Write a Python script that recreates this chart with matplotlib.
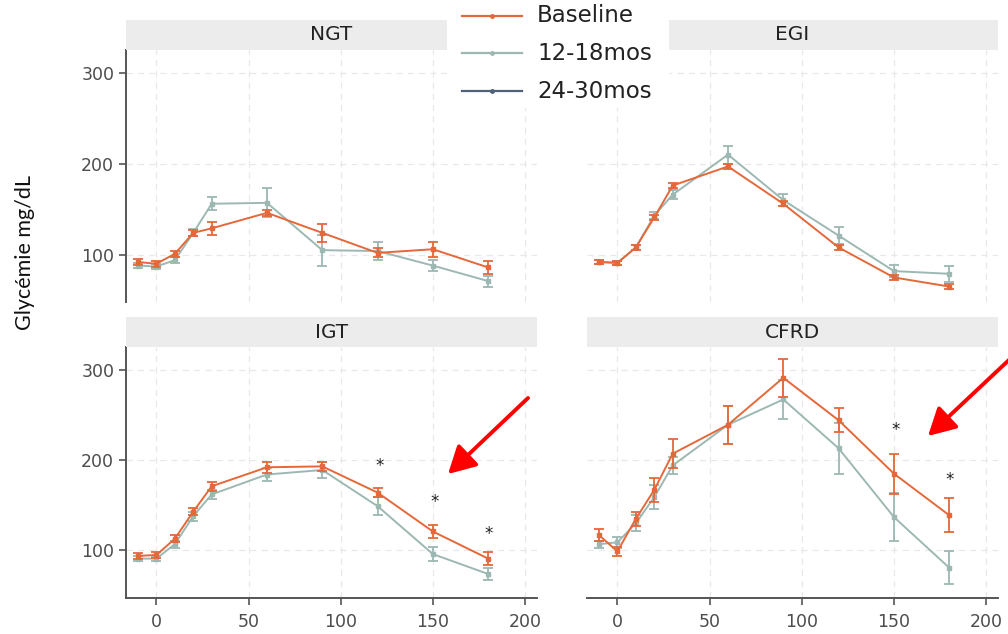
import matplotlib
matplotlib.use("Agg")
import matplotlib.pyplot as plt
from matplotlib.lines import Line2D
from matplotlib.patches import Rectangle, FancyArrowPatch

W, H = 1008, 634

# OGTT sampling times (min)
times = [-10, 0, 10, 20, 30, 60, 90, 120, 150, 180]
panels = ["NGT", "EGI", "IGT", "CFRD"]
series_labels = ["Baseline", "12-18mos", "24-30mos"]
x_ticks = [0, 50, 100, 150, 200]
y_ticks = [100, 200, 300]

# mean glycaemia and error per group
ngt_base = [92, 90, 101, 124, 129, 146, 124, 102, 106, 86]
ngt_base_err = [3, 3, 3, 3, 7, 3, 10, 5, 8, 7]
ngt_fu = [88, 87, 94, 124, 156, 157, 105, 104, 88, 71]
ngt_fu_err = [3, 3, 3, 4, 7, 16, 17, 10, 6, 6]

egi_base = [92, 91, 108, 141, 176, 197, 156, 108, 75, 65]
egi_base_err = [2, 2, 3, 3, 3, 3, 3, 3, 3, 3]
egi_fu = [92, 91, 108, 143, 166, 210, 160, 121, 82, 79]
egi_fu_err = [2, 2, 3, 4, 5, 10, 7, 9, 7, 9]

igt_base = [94, 95, 113, 143, 171, 192, 193, 164, 121, 91]
igt_base_err = [3, 3, 4, 4, 5, 6, 5, 5, 7, 7]
igt_fu = [91, 91, 107, 138, 162, 184, 189, 149, 96, 74]
igt_fu_err = [3, 3, 4, 5, 5, 7, 9, 10, 8, 7]

cfrd_base = [117, 99, 135, 167, 207, 239, 291, 244, 185, 139]
cfrd_base_err = [7, 5, 8, 13, 16, 21, 21, 13, 22, 19]
cfrd_fu = [107, 109, 130, 159, 194, 239, 267, 213, 137, 81]
cfrd_fu_err = [4, 6, 9, 13, 9, 21, 22, 28, 27, 18]

# significance marks (time, glycaemia)
igt_star_x = [121, 151, 180]
igt_star_y = [200, 160, 124]
cfrd_star_x = [151, 180]
cfrd_star_y = [239, 184]

C_BASE = "#E4683A"
C_FU = "#9DB8B3"
C_LATE = "#4E6279"

data = {
    "NGT": (ngt_base, ngt_base_err, ngt_fu, ngt_fu_err),
    "EGI": (egi_base, egi_base_err, egi_fu, egi_fu_err),
    "IGT": (igt_base, igt_base_err, igt_fu, igt_fu_err),
    "CFRD": (cfrd_base, cfrd_base_err, cfrd_fu, cfrd_fu_err),
}
stars = {"IGT": (igt_star_x, igt_star_y), "CFRD": (cfrd_star_x, cfrd_star_y)}

plt.rcParams["font.family"] = ["DejaVu Sans"]
fig = plt.figure(figsize=(W / 100, H / 100), dpi=100)


def box(x0, y0, x1, y1):
    return [x0 / W, 1 - y1 / H, (x1 - x0) / W, (y1 - y0) / H]


cols = [(126, 537), (587, 998)]
rows = [((20, 50), (50, 302)), ((317, 347), (347, 597.5))]

for i, name in enumerate(panels):
    r, c = divmod(i, 2)
    (sy0, sy1), (py0, py1) = rows[r]
    x0, x1 = cols[c]

    # facet strip
    fig.add_artist(Rectangle((x0 / W, 1 - sy1 / H), (x1 - x0) / W, (sy1 - sy0) / H,
                             transform=fig.transFigure, facecolor="#ececec",
                             edgecolor="none", zorder=0.5))
    fig.text((x0 + x1) / 2 / W, 1 - (sy0 + sy1) / 2 / H, name, ha="center",
             va="center", fontsize=14.5, color="#222222")

    ax = fig.add_axes(box(x0, py0, x1, py1))
    ax.set_xlim(-16.5, 206.5)
    ax.set_ylim(48, 325)
    ax.set_xticks(x_ticks)
    ax.set_yticks(y_ticks)
    ax.grid(True, color="#e8e8e8", linestyle=(0, (5, 4)), linewidth=0.9)
    ax.set_axisbelow(True)
    for s in ax.spines.values():
        s.set_visible(False)
    ax.tick_params(colors="#555555", labelcolor="#4d4d4d", labelsize=12.5,
                   length=5, width=1.2)
    ax.tick_params(axis="y", pad=3.5)
    ax.tick_params(axis="x", pad=6)
    if c == 0:
        ax.spines["left"].set_visible(True)
        ax.spines["left"].set_color("#555555")
        ax.spines["left"].set_linewidth(1.4)
    else:
        ax.tick_params(axis="y", left=False, labelleft=False)
    if r == 1:
        ax.spines["bottom"].set_visible(True)
        ax.spines["bottom"].set_color("#555555")
        ax.spines["bottom"].set_linewidth(1.4)
    else:
        ax.tick_params(axis="x", bottom=False, labelbottom=False)

    base, base_err, fu, fu_err = data[name]
    ax.errorbar(times, fu, yerr=fu_err, color=C_FU, lw=1.4, marker="s", ms=3,
                capsize=3.5, elinewidth=1.3, capthick=1.3, zorder=3)
    ax.errorbar(times, base, yerr=base_err, color=C_BASE, lw=1.4, marker="s", ms=3,
                capsize=3.5, elinewidth=1.3, capthick=1.3, zorder=4)
    if name in stars:
        sx, sy = stars[name]
        for xx, yy in zip(sx, sy):
            ax.annotate("*", (xx, yy), xytext=(0, -4), textcoords="offset points",
                        ha="center", va="center", fontsize=12, color="#222222")

# shared y label
fig.text(25 / W, 1 - 253 / H, "Glycémie mg/dL", rotation=90, ha="center",
         va="center", fontsize=15.5, family=["Lato", "DejaVu Sans"], color="#111111")

# legend block over the top strips
fig.add_artist(Rectangle((447 / W, 1 - 108 / H), (669 - 447) / W, 108 / H,
                         transform=fig.transFigure, facecolor="white",
                         edgecolor="none", zorder=5))
leg_colors = [C_BASE, C_FU, C_LATE]
leg_rows = [16, 53, 91]
for lab, col, yy in zip(series_labels, leg_colors, leg_rows):
    fig.add_artist(Line2D([462 / W, 522 / W], [1 - yy / H] * 2, transform=fig.transFigure,
                          color=col, lw=1.6, zorder=6))
    fig.add_artist(Line2D([492 / W], [1 - yy / H], transform=fig.transFigure,
                          color=col, marker="o", ms=2.5, lw=0, zorder=6))
    t = fig.text(537 / W, 1 - yy / H, lab, ha="left", va="center", fontsize=16.5,
                 color="#222222")
    t.set_zorder(7)

# highlight arrows
for (xa, ya), (xb, yb) in [((528, 398), (448, 474)), ((1010, 359), (928, 436))]:
    fig.add_artist(FancyArrowPatch((xa / W, 1 - ya / H), (xb / W, 1 - yb / H),
                                   transform=fig.transFigure,
                                   arrowstyle="-|>,head_length=1.1,head_width=0.6",
                                   mutation_scale=15, color="#FF0000", lw=2.8,
                                   shrinkA=0, shrinkB=0, zorder=8))

fig.savefig("out.png", dpi=100)
